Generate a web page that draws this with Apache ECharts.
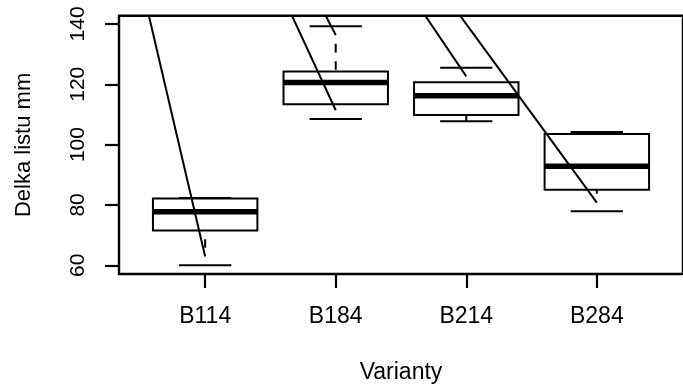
<!DOCTYPE html>
<html>
<head>
<meta charset="utf-8">
<script src="https://cdn.jsdelivr.net/npm/echarts@6/dist/echarts.min.js"></script>
<style>
  html, body { margin: 0; padding: 0; background: #fff; }
  #chart { width: 683px; height: 392px; }
</style>
</head>
<body>
<div id="chart"></div>
<script>
// Leaf length per variety: five-number summaries
const categories   = ['B114', 'B184', 'B214', 'B284'];
const whiskerLow   = [60.0, 108.5, 107.7, 77.9];
const lowerQuart   = [71.5, 113.4, 109.8, 85.0];
const medians      = [77.7, 120.6, 116.2, 92.8];
const upperQuart   = [82.1, 124.2, 120.7, 103.5];
const whiskerHigh  = [82.3, 139.2, 125.5, 104.2];
const yTicks       = [60, 80, 100, 120, 140];
const xTicks       = [1, 2, 3, 4];
// point the leading whisker strokes run from
const strokeOrigin = [-0.55, 350];

const FONT = "'Liberation Sans', Arial, Helvetica, sans-serif";

const boxData = categories.map((c, i) => [
  i + 1, whiskerLow[i], lowerQuart[i], medians[i], upperQuart[i], whiskerHigh[i]
]);

const DASH = 8.7, GAP = 8.7;
const THIN = 2;

function renderBox(params, api) {
  const x = api.value(0);
  const cx = api.coord([x, 0])[0];
  const yLow = api.coord([x, api.value(1)])[1];
  const yQ1 = api.coord([x, api.value(2)])[1];
  const yMed = api.coord([x, api.value(3)])[1];
  const yQ3 = api.coord([x, api.value(4)])[1];
  const yHigh = api.coord([x, api.value(5)])[1];
  const half = api.size([0.4, 0])[0];
  const stapleHalf = api.size([0.2, 0])[0];
  const origin = api.coord(strokeOrigin);
  const line = (x1, y1, x2, y2, w) => ({
    type: 'line',
    shape: { x1, y1, x2, y2 },
    style: { stroke: '#000', lineWidth: w, lineCap: 'butt' }
  });
  const children = [];

  // whisker: dashes from the staple toward the box
  function whisker(yStaple, yBox) {
    const len = Math.abs(yBox - yStaple);
    const dir = yBox > yStaple ? 1 : -1;
    if (len <= DASH) {
      children.push(line(cx, yStaple, cx, yBox, THIN));
      return;
    }
    const firstEnd = yStaple + dir * DASH;
    children.push(line(origin[0], origin[1], cx, firstEnd, THIN));
    let pos = DASH + GAP;
    while (pos < len) {
      const end = Math.min(pos + DASH, len);
      children.push(line(cx, yStaple + dir * pos, cx, yStaple + dir * end, THIN));
      pos = end + GAP;
    }
  }
  whisker(yHigh, yQ3);
  whisker(yLow, yQ1);

  // staples
  children.push(line(cx - stapleHalf, yHigh, cx + stapleHalf, yHigh, THIN));
  children.push(line(cx - stapleHalf, yLow, cx + stapleHalf, yLow, THIN));
  // box
  children.push({
    type: 'rect',
    shape: { x: cx - half, y: yQ3, width: half * 2, height: yQ1 - yQ3 },
    style: { fill: 'none', stroke: '#000', lineWidth: THIN }
  });
  // median
  children.push(line(cx - half, yMed, cx + half, yMed, 5.5));
  return { type: 'group', children };
}

const chart = echarts.init(document.getElementById('chart'), null, { renderer: 'canvas' });
chart.setOption({
  animation: false,
  backgroundColor: '#fff',
  grid: {
    left: 119, top: 15.8, right: -3.8, bottom: 118,
    show: true, borderColor: '#000', borderWidth: 2.4, backgroundColor: 'transparent'
  },
  xAxis: {
    type: 'value', min: 0.34, max: 4.66,
    name: 'Varianty', nameLocation: 'middle', nameGap: 87,
    nameTextStyle: { fontFamily: FONT, fontSize: 23, color: '#000' },
    axisLine: { show: false },
    splitLine: { show: false },
    axisTick: { show: true, customValues: xTicks, length: 14, lineStyle: { color: '#000', width: 2.2 } },
    axisLabel: {
      customValues: xTicks, margin: 31,
      formatter: v => categories[Math.round(v) - 1] || '',
      fontFamily: FONT, fontSize: 23, color: '#000'
    }
  },
  yAxis: {
    type: 'value', min: 57.1, max: 142.7,
    name: 'Delka listu mm', nameLocation: 'middle', nameGap: 84, nameRotate: 90,
    nameTextStyle: { fontFamily: FONT, fontSize: 22, color: '#000' },
    axisLine: { show: false },
    splitLine: { show: false },
    axisTick: { show: true, customValues: yTicks, length: 14, lineStyle: { color: '#000', width: 2.2 } },
    axisLabel: {
      customValues: yTicks, rotate: 90, margin: 30,
      fontFamily: FONT, fontSize: 21, color: '#000'
    }
  },
  series: [{
    type: 'custom',
    clip: true,
    renderItem: renderBox,
    encode: { x: 0, y: [1, 2, 3, 4, 5] },
    data: boxData
  }]
});
</script>
</body>
</html>
